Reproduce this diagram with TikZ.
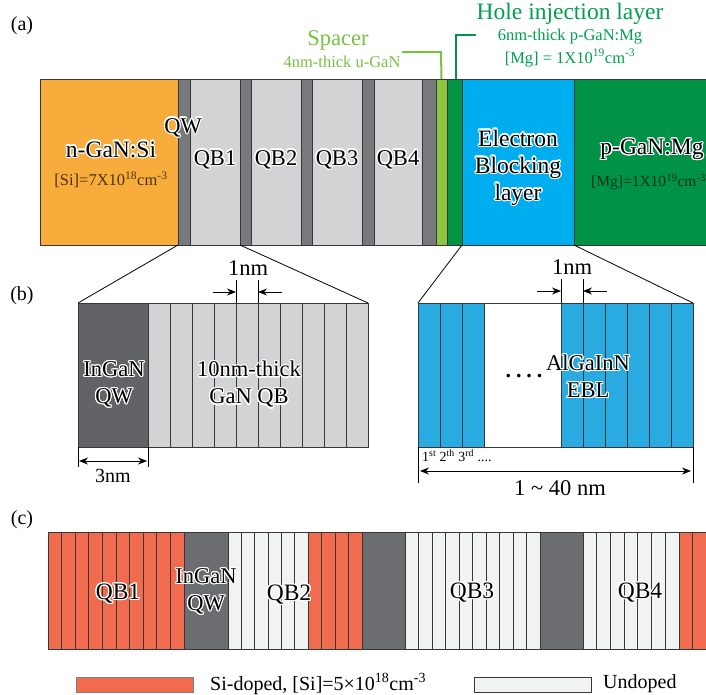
\documentclass[tikz,border=0pt]{standalone}
\usepackage{fontspec}
\setmainfont{Liberation Serif}
\usepackage{contour}
\contourlength{1.2pt}
\usetikzlibrary{arrows.meta}
\definecolor{ngan}{RGB}{248,172,59}
\definecolor{qwa}{RGB}{120,121,124}
\definecolor{qba}{RGB}{209,211,212}
\definecolor{spc}{RGB}{141,198,63}
\definecolor{hil}{RGB}{0,148,68}
\definecolor{ebl}{RGB}{0,174,239}
\definecolor{pgan}{RGB}{0,146,69}
\definecolor{qwb}{RGB}{98,99,102}
\definecolor{bblue}{RGB}{41,170,225}
\definecolor{sired}{RGB}{241,108,79}
\definecolor{qwc}{RGB}{108,109,112}
\definecolor{undop}{RGB}{241,242,242}
\definecolor{edge}{RGB}{55,55,55}
\definecolor{spctext}{RGB}{122,193,67}
\definecolor{hiltext}{RGB}{0,160,80}
\newcommand{\halo}[1]{\contour{white}{#1}}
\begin{document}
\begin{tikzpicture}[x=1pt,y=-1pt,
  layer/.style={draw=edge, line width=0.9pt, inner sep=0pt, outer sep=0pt, anchor=north west, minimum height=166pt},
  bstripe/.style={draw=edge, line width=0.9pt, inner sep=0pt, outer sep=0pt, anchor=north west, minimum height=144pt, minimum width=22pt},
  cstripe/.style={draw=edge, line width=0.9pt, inner sep=0pt, outer sep=0pt, anchor=north west, minimum height=117pt},
  big/.style={inner sep=0pt, font=\fontsize{22.5}{27}\selectfont, align=center},
  bigger/.style={inner sep=0pt, font=\fontsize{23.5}{27}\selectfont, align=center},
  mid/.style={inner sep=0pt, font=\fontsize{16.5}{19}\selectfont},
  small/.style={inner sep=0pt, font=\fontsize{14}{16}\selectfont},
  panel/.style={inner sep=0pt, font=\fontsize{20}{22}\selectfont},
  zoomline/.style={black, line width=0.8pt},
  tick/.style={black, line width=0.9pt},
  dimarrow/.style={black, line width=0.9pt, -{Stealth[length=9pt,width=7pt]}},
  dimboth/.style={black, line width=0.9pt, {Stealth[length=9pt,width=7pt]}-{Stealth[length=9pt,width=7pt]}},
  legbox/.style={draw=gray, line width=0.9pt, inner sep=0pt, anchor=north west, minimum width=117pt, minimum height=15pt}
]
\clip (0,0) rectangle (706,694);
\fill[white] (0,0) rectangle (706,694);

% ---------- (a) ----------
\node[panel] (pa) at (22,26) {(a)};
\node[layer, fill=ngan, minimum width=138pt] (ngan) at (40,79) {};
\node[layer, fill=qwa, minimum width=12pt] (qw1) at (178,79) {};
\node[layer, fill=qba, minimum width=50pt] (qb1) at (190,79) {};
\node[layer, fill=qwa, minimum width=11pt] (qw2) at (240,79) {};
\node[layer, fill=qba, minimum width=50pt] (qb2) at (251,79) {};
\node[layer, fill=qwa, minimum width=11pt] (qw3) at (301,79) {};
\node[layer, fill=qba, minimum width=50pt] (qb3) at (312,79) {};
\node[layer, fill=qwa, minimum width=12pt] (qw4) at (362,79) {};
\node[layer, fill=qba, minimum width=48pt] (qb4) at (374,79) {};
\node[layer, fill=qwa, minimum width=14pt] (qw5) at (422,79) {};
\node[layer, fill=spc, minimum width=11pt] (spacer) at (436,79) {};
\node[layer, fill=hil, minimum width=15pt] (hil) at (447,79) {};
\node[layer, fill=ebl, minimum width=112pt] (ebl) at (462,79) {};
\node[layer, fill=pgan, minimum width=140pt] (pgan) at (574,79) {};

\node[bigger] (tngan) at (111,150) {\halo{n-GaN:Si}};
\node[inner sep=0pt, font=\fontsize{16.5}{18}\selectfont, text=black!70!ngan] (tsi) at (111,180) {[Si]=7X10\textsuperscript{18}cm\textsuperscript{-3}};
\node[big] (tqw) at (183,128) {\halo{QW}};
\node[big] (tqb1) at (215,160) {\halo{QB1}};
\node[big] (tqb2) at (276,160) {\halo{QB2}};
\node[big] (tqb3) at (337,160) {\halo{QB3}};
\node[big] (tqb4) at (398,160) {\halo{QB4}};
\node[bigger] (tebl) at (518,168) {\halo{Electron}\\\halo{Blocking}\\\halo{layer}};
\node[bigger] (tpgan) at (652,150) {\halo{p-GaN:Mg}};
\node[inner sep=0pt, anchor=west, font=\fontsize{15.5}{18}\selectfont, text=black!65!pgan] (tmg) at (591,182) {[Mg]=1X10\textsuperscript{19}cm\textsuperscript{-3}};

\node[inner sep=0pt, font=\fontsize{22.5}{24}\selectfont, text=spctext] (tspacer) at (338,40) {Spacer};
\node[mid, text=spctext] (tspacer2) at (342,62) {4nm-thick u-GaN};
\coordinate (sp1) at (402,52);
\coordinate (sp2) at (441,52);
\draw[spctext, line width=2pt] (sp1) -- (sp2) -- (spacer.north);
\node[inner sep=0pt, font=\fontsize{23.5}{25}\selectfont, text=hiltext] (thil) at (570,14) {Hole injection layer};
\node[mid, text=hiltext] (thil2) at (570,37) {6nm-thick p-GaN:Mg};
\node[mid, text=hiltext] (thil3) at (570,58) {[Mg] = 1X10\textsuperscript{19}cm\textsuperscript{-3}};
\coordinate (hl1) at (476,35);
\coordinate (hl2) at (456,35);
\draw[hil, line width=2.5pt] (hl1) -- (hl2) -- (hil.north -| hl2);

% ---------- (b) ----------
\node[panel] (pb) at (22,296) {(b)};
\node[bstripe, fill=qwb, minimum width=70pt] (bqw) at (78,303) {};
\foreach \i in {0,...,9} \node[bstripe, fill=qba] (bqb\i) at ({148+22*\i},303) {};
\draw[zoomline] (qw1.south west) -- (bqw.north west);
\draw[zoomline] (qb1.south east) -- (bqb9.north east);
\node[big] (tbqw) at (114,385) {\halo{InGaN}\\\halo{QW}};
\node[big] (tbqb) at (249,385) {\halo{10nm-thick}\\\halo{GaN QB}};
% 1nm left
\draw[tick] (bqb4.north west) -- ++(0,-23);
\draw[tick] (bqb4.north east) -- ++(0,-23);
\draw[dimarrow] (213,292) -- (bqb4.north west |- 0,292);
\draw[dimarrow] (282,292) -- (bqb4.north east |- 0,292);
\node[big] (t1nma) at (248,268) {1nm};
% 3nm
\draw[tick] (bqw.south west) -- ++(0,20);
\draw[tick] (bqw.south east) -- ++(0,20);
\draw[dimboth] (79,461) -- (147,461);
\node[panel] (t3nm) at (113,476) {3nm};

% right box
\node[bstripe, fill=bblue] (rb1) at (418,303) {};
\node[bstripe, fill=bblue] (rb2) at (440,303) {};
\node[bstripe, fill=bblue] (rb3) at (462,303) {};
\node[bstripe, fill=white, minimum width=77pt] (rbw) at (484,303) {};
\foreach \i in {4,...,9} \node[bstripe, fill=bblue] (rb\i) at ({561+22*(\i-4)},303) {};
\draw[zoomline] (ebl.south west) -- (rb1.north west);
\draw[zoomline] (ebl.south east) -- (rb9.north east);
\node[inner sep=0pt, font=\fontsize{22}{24}\bfseries\selectfont] (tdots) at (524,376) {.\hspace{5pt}.\hspace{5pt}.\hspace{5pt}.};
\node[big] (tebl2) at (588,377) {\halo{AlGaInN}\\\halo{EBL}};
% 1nm right
\draw[tick] (rb4.north west) -- ++(0,-24);
\draw[tick] (rb4.north east) -- ++(0,-24);
\draw[dimarrow] (537,291) -- (rb4.north west |- 0,291);
\draw[dimarrow] (607,291) -- (rb4.north east |- 0,291);
\node[big] (t1nmb) at (572,267) {1nm};
% 1 ~ 40 nm
\draw[tick] (rb1.south west) -- ++(0,36);
\draw[tick] (rb9.south east) -- ++(0,36);
\node[small, anchor=west] (tord) at (422,456) {1\textsuperscript{st} 2\textsuperscript{th} 3\textsuperscript{rd} ....};
\draw[dimboth] (420,471) -- (691,471);
\node[big] (t140) at (560,488) {1 \textasciitilde{} 40 nm};

% ---------- (c) ----------
\node[panel] (pc) at (22,520) {(c)};
\foreach \i in {0,...,9} \node[cstripe, fill=sired, minimum width=13.6pt] (cr1\i) at ({48+13.6*\i},532) {};
\node[cstripe, fill=qwc, minimum width=44pt] (cqw1) at (184,532) {};
\foreach \i in {0,...,5} \node[cstripe, fill=undop, minimum width=13.333pt] (cw2\i) at ({228+13.333*\i},532) {};
\foreach \i in {0,...,3} \node[cstripe, fill=sired, minimum width=13.5pt] (cr2\i) at ({308+13.5*\i},532) {};
\node[cstripe, fill=qwc, minimum width=43pt] (cqw2) at (362,532) {};
\foreach \i in {0,...,9} \node[cstripe, fill=undop, minimum width=13.5pt] (cw3\i) at ({405+13.5*\i},532) {};
\node[cstripe, fill=qwc, minimum width=43pt] (cqw3) at (540,532) {};
\foreach \i in {0,...,6} \node[cstripe, fill=undop, minimum width=13.714pt] (cw4\i) at ({583+13.714*\i},532) {};
\foreach \i in {0,...,2} \node[cstripe, fill=sired, minimum width=13.5pt] (cr4\i) at ({679+13.5*\i},532) {};
\node[bigger] (cqb1) at (118,594) {\halo{QB1}};
\node[big] (cqw) at (206,592) {\halo{InGaN}\\\halo{QW}};
\node[bigger] (cqb2) at (289,595) {\halo{QB2}};
\node[bigger] (cqb3) at (472,593) {\halo{QB3}};
\node[bigger] (cqb4) at (640,593) {\halo{QB4}};

% legend
\node[legbox, fill=sired] (legred) at (76,677) {};
\node[inner sep=0pt, anchor=west, font=\fontsize{20}{22}\selectfont] (legredt) at (210,684) {Si-doped, [Si]=5×10\textsuperscript{18}cm\textsuperscript{-3}};
\node[legbox, fill=undop, draw=edge] (legund) at (474,677) {};
\node[inner sep=0pt, anchor=west, font=\fontsize{20}{22}\selectfont] (legundt) at (603,684) {Undoped};
\end{tikzpicture}
\end{document}
